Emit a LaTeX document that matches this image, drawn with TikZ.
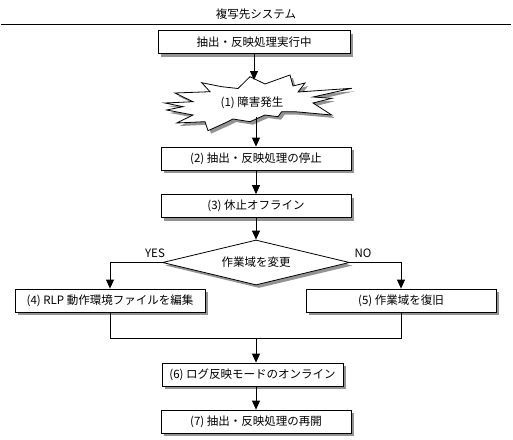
\documentclass[tikz,border=0pt]{standalone}
\usepackage{fontspec}
\setmainfont{Noto Sans CJK JP}
\usetikzlibrary{shapes.geometric,shadows,arrows.meta}
\tikzset{
  shad/.style={drop shadow={shadow xshift=3pt, shadow yshift=-3pt, fill=gray!85, opacity=1}},
  box/.style={draw, line width=0.8pt, fill=white, shad, rectangle, inner sep=0pt,
    minimum height=23pt, font=\fontsize{11.5pt}{13pt}\selectfont},
  conn/.style={line width=0.8pt},
  arr/.style={conn, -{Triangle[width=8pt,length=9pt]}},
  lbl/.style={font=\fontsize{11.5pt}{13pt}\selectfont, inner sep=0pt}
}
\begin{document}
\begin{tikzpicture}[x=1pt,y=-1pt]
\useasboundingbox (0,0) rectangle (513,439);
\node[lbl] (title) at (256,14) {複写先システム};
\coordinate (hl) at (1,24);
\coordinate (hr) at (511,24);
\draw[conn] (hl) -- (hr);

\node[box, minimum width=192pt] (b1) at (254,42) {抽出・反映処理実行中};

% starburst
\fill[gray!85, shift={(3pt,-3pt)}]
 (201.7,82.7) -- (221.7,86.7) -- (238,88.5) -- (250,76.7) -- (265,84) -- (290,75) -- (293,86) -- (305,83)
 -- (298,92) -- (351.7,88.3) -- (313,97) -- (331.7,98.3) -- (313,103) -- (331.7,115) -- (295,111.7)
 -- (281.7,111.7) -- (278,116.7) -- (265,115) -- (250,121.7) -- (233,119) -- (225,123) -- (208,130.7)
 -- (205,121.7) -- (176.7,123) -- (193,115) -- (166.7,110) -- (183,106.7) -- (165,103) -- (193,101.7)
 -- (175,93) -- (210,91.7) -- cycle;
\draw[conn, fill=white]
 (201.7,82.7) -- (221.7,86.7) -- (238,88.5) -- (250,76.7) -- (265,84) -- (290,75) -- (293,86) -- (305,83)
 -- (298,92) -- (351.7,88.3) -- (313,97) -- (331.7,98.3) -- (313,103) -- (331.7,115) -- (295,111.7)
 -- (281.7,111.7) -- (278,116.7) -- (265,115) -- (250,121.7) -- (233,119) -- (225,123) -- (208,130.7)
 -- (205,121.7) -- (176.7,123) -- (193,115) -- (166.7,110) -- (183,106.7) -- (165,103) -- (193,101.7)
 -- (175,93) -- (210,91.7) -- cycle;
\node[lbl] (star) at (252,103) {(1) 障害発生};
\coordinate (sttop) at (254,80);
\coordinate (stbot) at (256,117);

\node[box, minimum width=190pt] (b2) at (256,158.5) {(2) 抽出・反映処理の停止};
\node[box, minimum width=190pt] (b3) at (256,206) {(3) 休止オフライン};
\node[draw, line width=0.8pt, fill=white, shad, diamond, shape aspect=4.16, minimum width=187pt, minimum height=45pt,
  inner sep=0pt, font=\fontsize{11.5pt}{13pt}\selectfont] (dec) at (256,262.5) {作業域を変更};
\node[lbl] (yes) at (155,253) {YES};
\node[lbl] (no) at (363,253) {NO};
\node[box, minimum width=190pt] (b4) at (110,300.5) {(4) RLP 動作環境ファイルを編集};
\node[box, minimum width=190pt] (b5) at (401,300.5) {(5) 作業域を復旧};
\coordinate (mg) at (256,338);
\node[box, minimum width=181pt] (b6) at (252.5,374.5) {(6) ログ反映モードのオンライン};
\node[box, minimum width=190pt] (b7) at (256,421.5) {(7) 抽出・反映処理の再開};

\draw[arr] (b1.south) -- (sttop);
\draw[arr] (stbot) -- (b2.north);
\draw[arr] (b2.south) -- (b3.north);
\draw[arr] (b3.south) -- (dec.north);
\draw[arr] (dec.west) -| (b4.north);
\draw[arr] (dec.east) -| (b5.north);
\draw[conn] (b4.south) |- (mg);
\draw[conn] (b5.south) |- (mg);
\draw[arr] (mg) -- (mg |- b6.north);
\draw[arr] (b6.south -| b7.north) -- (b7.north);
\end{tikzpicture}
\end{document}
